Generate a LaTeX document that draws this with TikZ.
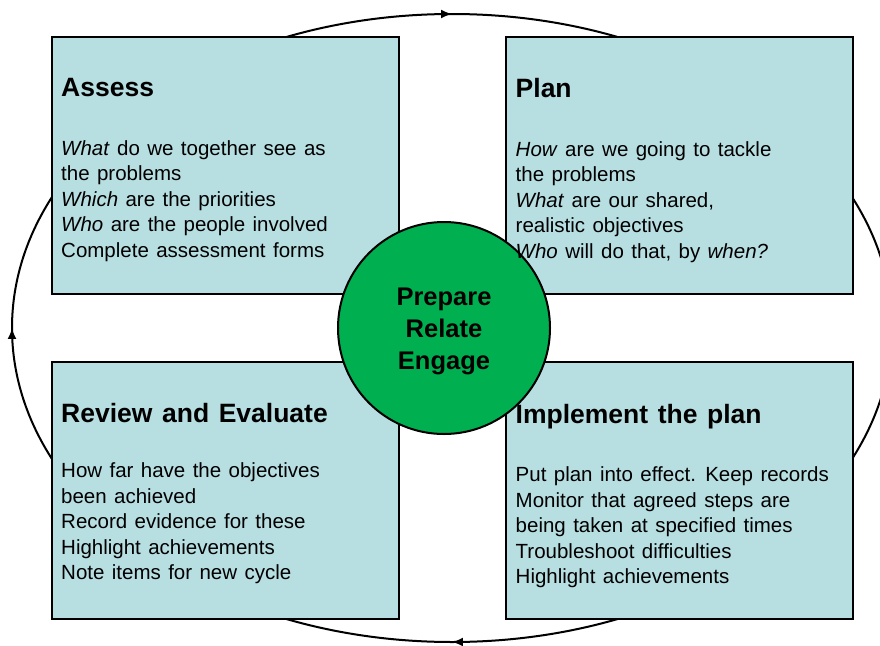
\documentclass[tikz,border=0pt]{standalone}
\usepackage{fontspec}
\setmainfont{Liberation Sans}[WordSpace=1.3]
\usepackage{xcolor}
\usepackage{tikz}
\usetikzlibrary{positioning}
\usetikzlibrary{arrows.meta}
\usetikzlibrary{decorations.markings}
\definecolor{stageblue}{RGB}{183,222,225}
\definecolor{hubgreen}{RGB}{0,176,80}
\tikzstyle{stage}=[rectangle,draw=black,fill=stageblue,line width=2pt,minimum width=347pt,minimum height=257pt,inner sep=0pt]
\tikzstyle{hub}=[circle,draw=black,fill=hubgreen,line width=2pt,minimum size=212pt,inner sep=0pt]
\tikzstyle{heading}=[anchor=base west,inner sep=0pt,font=\fontsize{26.5}{30}\selectfont\bfseries]
\tikzstyle{body}=[anchor=base west,inner sep=0pt,align=left,font=\fontsize{20.5}{25.5}\selectfont]
\tikzstyle{hubtext}=[align=center,inner sep=0pt,font=\fontsize{25.5}{32}\selectfont\bfseries]
\tikzstyle{cycle}=[draw,line width=2pt,postaction={decorate},
  decoration={markings,
    mark=at position 0.25 with {\arrow{Latex[length=11pt,width=9pt]}},
    mark=at position 0.5 with {\arrow{Latex[length=11pt,width=9pt]}},
    mark=at position 0.75 with {\arrow{Latex[length=11pt,width=9pt]}}}]

\begin{document}
\begin{tikzpicture}[x=1pt,y=-1pt]

	\useasboundingbox (0,0) rectangle (880,645);

	\def\xl{225.5};
	\def\xr{679};
	\def\yt{165.5};
	\def\yb{490};

%cycle
	\coordinate (loop) at (452,328);
	\draw[cycle] (loop) ellipse [x radius=440, y radius=314];

%stages
    \foreach \pos/\name in {{(\xl,\yt)/assess}, {(\xr,\yt)/plan}, {(\xl,\yb)/review}, {(\xr,\yb)/implement}}
        \node[stage] (\name) at \pos {};

%hub
	\node[hub] (hub) at (444,328) {};
	\node[hubtext] (hub-txt) at ([yshift=-3.5pt]hub.center) {Prepare\\Relate\\Engage};

%headings
    \foreach \name/\dx/\dy/\label in {assess/10/-60.5/Assess, plan/11/-61.5/Plan, review/10/-62/Review and Evaluate, implement/11/-63/Implement the plan}
        \node[heading] (\name-head) at ([xshift=\dx pt,yshift=\dy pt]\name.north west) {\label};

%body (base = last line)
	\node[body] (assess-txt) at ([xshift=10pt,yshift=-221pt]assess.north west)
		{\textit{What} do we together see as\\the problems\\\textit{Which} are the priorities\\\textit{Who} are the people involved\\Complete assessment forms};
	\node[body] (plan-txt) at ([xshift=11pt,yshift=-222pt]plan.north west)
		{\textit{How} are we going to tackle\\the problems\\\textit{What} are our shared,\\realistic objectives\\\textit{Who} will do that, by \textit{when?}};
	\node[body] (review-txt) at ([xshift=10pt,yshift=-219pt]review.north west)
		{How far have the objectives\\been achieved\\Record evidence for these\\Highlight achievements\\Note items for new cycle};
	\node[body] (implement-txt) at ([xshift=11pt,yshift=-223pt]implement.north west)
		{Put plan into effect. Keep records\\Monitor that agreed steps are\\being taken at specified times\\Troubleshoot difficulties\\Highlight achievements};

\end{tikzpicture}
\end{document}
